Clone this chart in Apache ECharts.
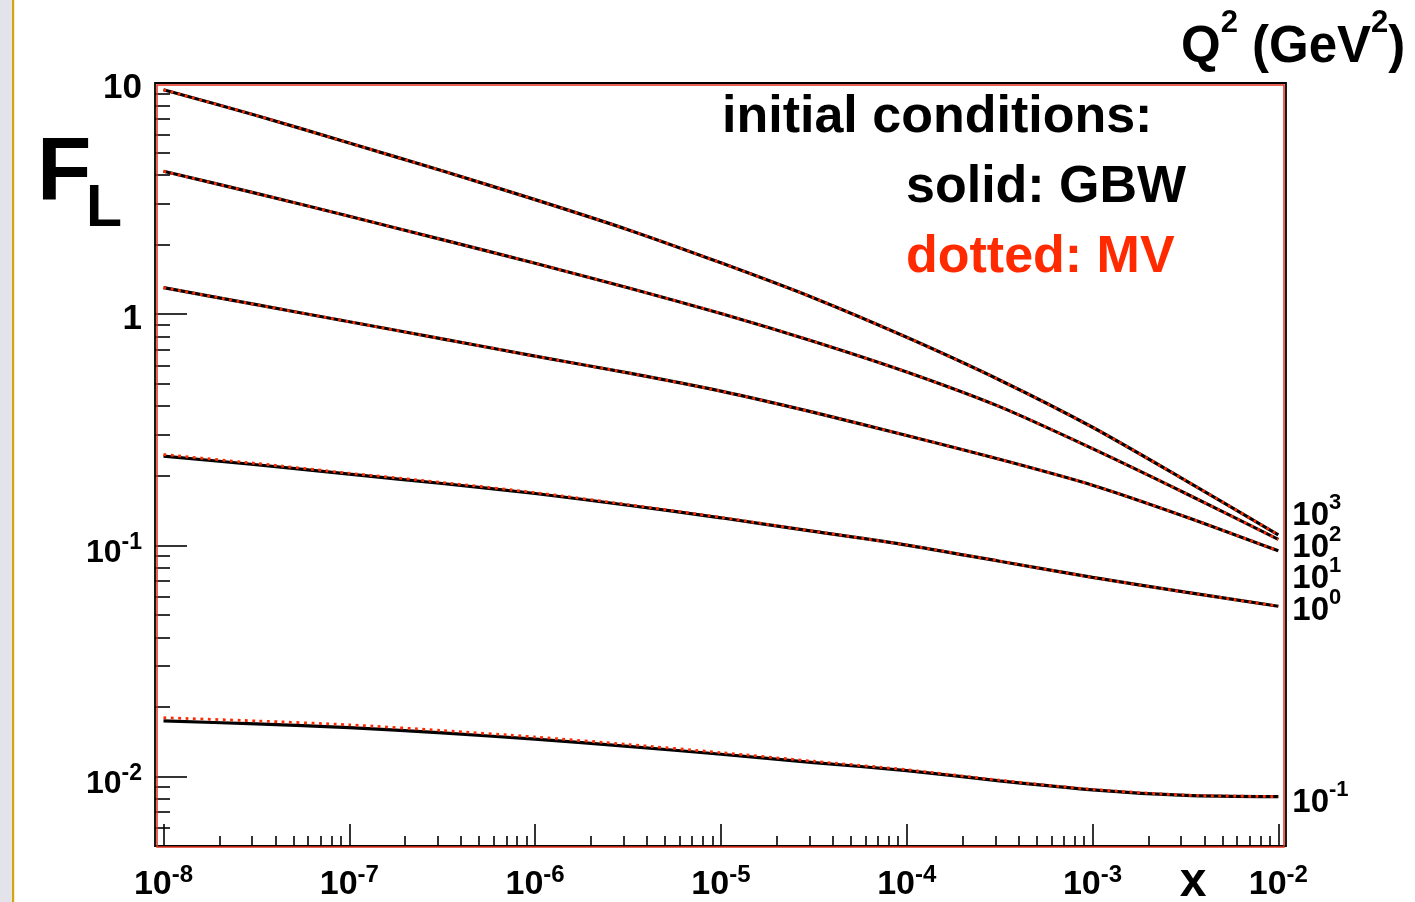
<!DOCTYPE html>
<html>
<head>
<meta charset="utf-8">
<script src="https://cdn.jsdelivr.net/npm/echarts@6/dist/echarts.min.js"></script>
<style>
  html, body { margin: 0; padding: 0; background: #ffffff; }
  #chart { width: 1415px; height: 902px; }
</style>
</head>
<body>
<div id="chart"></div>
<script>
// Bjorken x sample points (whole and half decades, shared by every curve)
const xValues = [1e-8, 3.16e-8, 1e-7, 3.16e-7, 1e-6, 3.16e-6, 1e-5, 3.16e-5, 1e-4, 3.16e-4, 1e-3, 3.16e-3, 1e-2];

// Q^2 values (GeV^2) as powers of ten, top curve first
const q2Exponents = ['3', '2', '1', '0', '-1'];

// F_L with GBW initial condition (solid)
const gbwQ2e3  = [9.35, 7.24, 5.50, 4.17, 3.13, 2.32, 1.667, 1.175, 0.794, 0.519, 0.324, 0.191, 0.111];
const gbwQ2e2  = [4.15, 3.33, 2.65, 2.10, 1.66, 1.30, 1.007, 0.762, 0.562, 0.398, 0.262, 0.168, 0.106];
const gbwQ2e1  = [1.303, 1.099, 0.927, 0.782, 0.658, 0.557, 0.4645, 0.3758, 0.2985, 0.2355, 0.182, 0.133, 0.0946];
const gbwQ2e0  = [0.243, 0.223, 0.203, 0.185, 0.1675, 0.149, 0.1315, 0.1148, 0.1002, 0.0853, 0.0726, 0.0627, 0.0545];
const gbwQ2em1 = [0.01738, 0.01687, 0.01626, 0.01542, 0.01449, 0.01349, 0.01247, 0.01148, 0.01059, 0.00957, 0.00875, 0.00828, 0.00817];

// F_L with MV initial condition (dotted)
const mvQ2e3  = [9.35, 7.24, 5.50, 4.17, 3.13, 2.32, 1.667, 1.175, 0.794, 0.519, 0.324, 0.191, 0.111];
const mvQ2e2  = [4.15, 3.33, 2.65, 2.10, 1.66, 1.30, 1.007, 0.762, 0.562, 0.398, 0.262, 0.168, 0.106];
const mvQ2e1  = [1.303, 1.099, 0.927, 0.782, 0.658, 0.557, 0.4645, 0.3758, 0.2985, 0.2355, 0.182, 0.133, 0.0946];
const mvQ2e0  = [0.247, 0.226, 0.205, 0.187, 0.169, 0.150, 0.132, 0.1150, 0.1003, 0.0854, 0.0726, 0.0627, 0.0545];
const mvQ2em1 = [0.01795, 0.01738, 0.01672, 0.01580, 0.01481, 0.01375, 0.01268, 0.01163, 0.01069, 0.00963, 0.00879, 0.00830, 0.00818];

// Axis decades that carry a "10^n" label
const xTickExponents = [-8, -7, -6, -5, -4, -3, -2];
const yTickExponents = [-2, -1, 0, 1];

// Axis ranges (data units)
const xRange = [9e-9, 1.1e-2];
const yRange = [0.005, 10];

const FONT = '"Liberation Sans", Arial, Helvetica, sans-serif';
const RED = '#ff2a00';
const FRAME_RED = '#e2301e';

const lg = Math.log10;
const curve = ys => xValues.map((x, i) => [lg(x), lg(ys[i])]);

// minor ticks at 2..9 x 10^n inside (lo, hi), in log10 units
function minorTicks(lo, hi) {
  const out = [];
  for (let e = Math.floor(lo) - 1; e <= Math.ceil(hi); e++) {
    for (let k = 2; k <= 9; k++) {
      const v = e + lg(k);
      if (v > lo + 1e-6 && v < hi - 1e-6) out.push(v);
    }
  }
  return out;
}

const xMin = lg(xRange[0]), xMax = lg(xRange[1]);
const yMin = lg(yRange[0]), yMax = lg(yRange[1]);

const bold = { fontWeight: 'bold', fontFamily: FONT, color: '#000' };

// padding that moves an end label's text up (negative) or down (positive)
const shift = dy => dy >= 0 ? [2 * dy, 0, 0, 0] : [0, 0, -2 * dy, 0];
const endShifts = [-22.7, 4.6, 24.6, 1.1, 2.3];

const gbwSets = [gbwQ2e3, gbwQ2e2, gbwQ2e1, gbwQ2e0, gbwQ2em1];
const mvSets = [mvQ2e3, mvQ2e2, mvQ2e1, mvQ2e0, mvQ2em1];

const series = [];
gbwSets.forEach((ys, i) => {
  series.push({
    name: 'GBW Q2=1e' + q2Exponents[i],
    type: 'line',
    data: curve(ys),
    xAxisIndex: 0, yAxisIndex: 0,
    showSymbol: false,
    symbol: 'none',
    smooth: 0.25,
    silent: true,
    z: 3,
    lineStyle: { color: '#000', width: 3.2 },
    endLabel: {
      show: true,
      distance: 14,
      formatter: '{b|10}{s|' + q2Exponents[i] + '}',
      padding: shift(endShifts[i]),
      rich: {
        b: Object.assign({ fontSize: 33, lineHeight: 40.5, verticalAlign: 'bottom' }, bold),
        s: Object.assign({ fontSize: 22, verticalAlign: 'top' }, bold)
      }
    }
  });
});
mvSets.forEach((ys, i) => {
  series.push({
    name: 'MV Q2=1e' + q2Exponents[i],
    type: 'line',
    data: curve(ys),
    xAxisIndex: 0, yAxisIndex: 0,
    showSymbol: false,
    symbol: 'none',
    smooth: 0.25,
    silent: true,
    z: 4,
    lineStyle: { color: RED, width: 2.8, type: [2.8, 4.6], cap: 'butt' }
  });
});

const tickStyle = { color: '#000', width: 1.6 };

const option = {
  animation: false,
  backgroundColor: '#ffffff',
  grid: {
    left: 155, right: 129, top: 83, bottom: 53,
    show: true, borderColor: '#000', borderWidth: 1.8, backgroundColor: 'transparent'
  },
  xAxis: [
    {
      type: 'value', min: xMin, max: xMax, position: 'bottom',
      axisLine: { show: false, onZero: false }, splitLine: { show: false },
      axisTick: { show: true, inside: true, length: 22, lineStyle: tickStyle, customValues: xTickExponents },
      axisLabel: {
        show: true, customValues: xTickExponents, margin: 17,
        formatter: v => '{b|10}{s|' + Math.round(v) + '}',
        rich: {
          b: Object.assign({ fontSize: 34, lineHeight: 39, verticalAlign: 'bottom' }, bold),
          s: Object.assign({ fontSize: 24, verticalAlign: 'top' }, bold)
        }
      }
    },
    {
      type: 'value', min: xMin, max: xMax, position: 'bottom',
      axisLine: { show: false, onZero: false }, splitLine: { show: false },
      axisTick: { show: true, inside: true, length: 10, lineStyle: tickStyle, customValues: minorTicks(xMin, xMax) },
      axisLabel: { show: false }
    }
  ],
  yAxis: [
    {
      type: 'value', min: yMin, max: yMax, position: 'left',
      axisLine: { show: false, onZero: false }, splitLine: { show: false },
      axisTick: { show: true, inside: true, length: 32, lineStyle: tickStyle, customValues: yTickExponents },
      axisLabel: {
        show: true, customValues: yTickExponents, margin: 13, padding: [10, 0, 0, 0],
        formatter: v => {
          const e = Math.round(v);
          if (e === 1) return '{p|10}';
          if (e === 0) return '{p|1}';
          return '{b|10}{s|' + e + '}';
        },
        rich: {
          p: Object.assign({ fontSize: 35, lineHeight: 35, verticalAlign: 'middle' }, bold),
          b: Object.assign({ fontSize: 32, lineHeight: 38, verticalAlign: 'bottom' }, bold),
          s: Object.assign({ fontSize: 23, verticalAlign: 'top' }, bold)
        }
      }
    },
    {
      type: 'value', min: yMin, max: yMax, position: 'left',
      axisLine: { show: false, onZero: false }, splitLine: { show: false },
      axisTick: { show: true, inside: true, length: 15, lineStyle: tickStyle, customValues: minorTicks(yMin, yMax) },
      axisLabel: { show: false }
    }
  ],
  series: series,
  graphic: [
    // page edge strip
    { type: 'rect', z: -10, shape: { x: 0, y: 0, width: 12, height: 902 }, style: { fill: '#e2e4e9' } },
    { type: 'rect', z: -9, shape: { x: 12, y: 0, width: 2.2, height: 902 }, style: { fill: '#d6a40c' } },
    // inner red frame line
    { type: 'rect', z: 1, silent: true,
      shape: { x: 157, y: 85, width: 1127, height: 762 },
      style: { fill: 'none', stroke: FRAME_RED, lineWidth: 1.5 } },
    // axis titles
    { type: 'text', x: 37, y: 175, style: { text: 'F', font: 'bold 89px ' + FONT, fill: '#000',
      align: 'left', verticalAlign: 'middle', textAlign: 'left', textVerticalAlign: 'middle' } },
    { type: 'text', x: 86, y: 210, style: { text: 'L', font: 'bold 59px ' + FONT, fill: '#000',
      align: 'left', verticalAlign: 'middle', textAlign: 'left', textVerticalAlign: 'middle' } },
    { type: 'text', x: 1193, y: 883, style: { text: 'x', font: 'bold 48px ' + FONT, fill: '#000',
      align: 'center', verticalAlign: 'middle', textAlign: 'center', textVerticalAlign: 'middle' } },
    { type: 'text', x: 1181, y: 8, style: {
      text: '{b|Q}{s|2}{b| (GeV}{s|2}{b|)}', fill: '#000',
      align: 'left', verticalAlign: 'top', textAlign: 'left', textVerticalAlign: 'top',
      rich: {
        b: { fontSize: 51, lineHeight: 65, verticalAlign: 'bottom', fontWeight: 'bold', fontFamily: FONT },
        s: { fontSize: 31, verticalAlign: 'top', fontWeight: 'bold', fontFamily: FONT }
      } } },
    // key
    { type: 'text', x: 722, y: 118, style: { text: 'initial conditions:', font: 'bold 52px ' + FONT, fill: '#000',
      align: 'left', verticalAlign: 'middle', textAlign: 'left', textVerticalAlign: 'middle' } },
    { type: 'text', x: 906, y: 188, style: { text: 'solid: GBW', font: 'bold 52px ' + FONT, fill: '#000',
      align: 'left', verticalAlign: 'middle', textAlign: 'left', textVerticalAlign: 'middle' } },
    { type: 'text', x: 906, y: 258, style: { text: 'dotted: MV', font: 'bold 52px ' + FONT, fill: RED,
      align: 'left', verticalAlign: 'middle', textAlign: 'left', textVerticalAlign: 'middle' } }
  ]
};

const chart = echarts.init(document.getElementById('chart'), null, { renderer: 'canvas' });
chart.setOption(option);
</script>
</body>
</html>
